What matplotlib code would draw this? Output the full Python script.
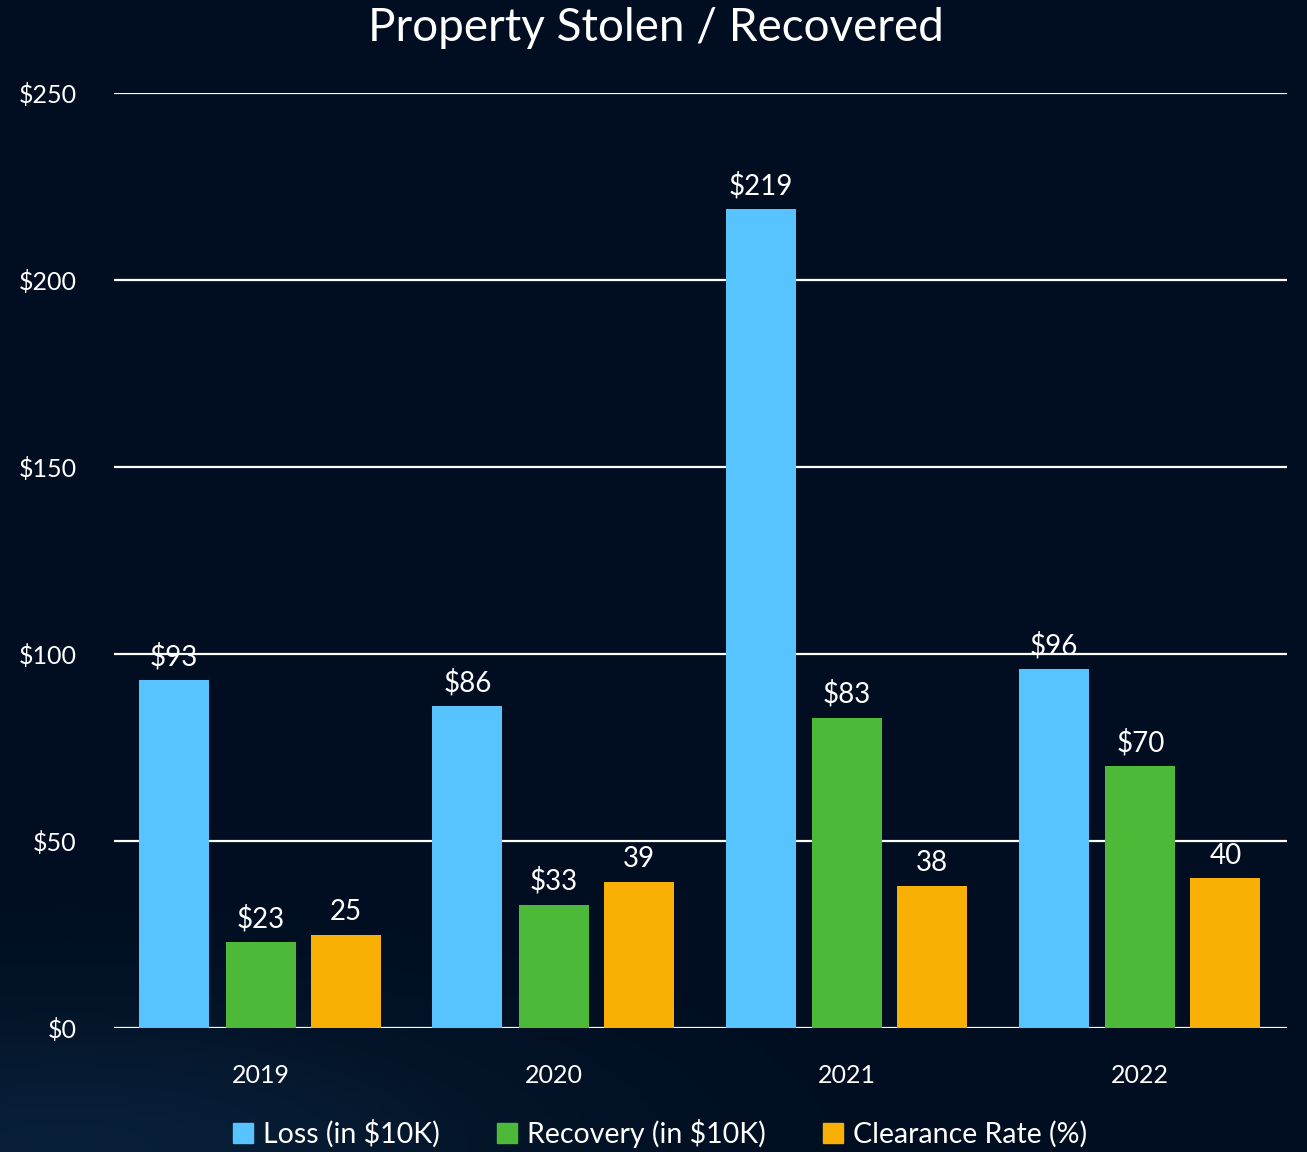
import numpy as np
import matplotlib.pyplot as plt
from matplotlib.patches import Patch

years = ['2019', '2020', '2021', '2022']
loss = [93, 86, 219, 96]
recovery = [23, 33, 83, 70]
clearance = [25, 39, 38, 40]
yticks = [0, 50, 100, 150, 200, 250]

bg = '#010e21'
c_loss = '#57c4ff'
c_rec = '#4cb938'
c_clr = '#f8b004'

plt.rcParams['font.family'] = ['Lato', 'DejaVu Sans']

fig = plt.figure(figsize=(13.07, 11.52), dpi=100, facecolor=bg)

# faint bluish glow along the lower left
bgax = fig.add_axes([0, 0, 1, 1], zorder=-10)
gx, gy = np.meshgrid(np.linspace(0, 1, 300), np.linspace(0, 1, 300))
glow = np.exp(-((gx - 0.05) ** 2 / 0.12 + (gy - 0.0) ** 2 / 0.015))
base = np.array([1, 14, 33]) / 255.0
tint = np.array([10, 36, 62]) / 255.0
img = base + 0.8 * glow[..., None] * (tint - base)
bgax.imshow(img, origin='lower', extent=[0, 1, 0, 1], aspect='auto')
bgax.axis('off')

ax = fig.add_axes([114 / 1307, 124 / 1152, 1173 / 1307, 935 / 1152])
ax.set_facecolor('none')

x = np.arange(len(years))
w = 0.239
series = [(loss, -0.295, c_loss, True), (recovery, 0.0, c_rec, True), (clearance, 0.29, c_clr, False)]
for vals, off, col, dollar in series:
    bars = ax.bar(x + off, vals, width=w, color=col, zorder=3)
    for b, v in zip(bars, vals):
        lab = '$%d' % v if dollar else '%d' % v
        ax.annotate(lab, (b.get_x() + b.get_width() / 2, v), xytext=(0, 7),
                    textcoords='offset points', ha='center', va='bottom',
                    color='white', fontsize=20)

ax.set_xlim(-0.5, 3.5)
ax.set_ylim(0, 250)
ax.set_yticks(yticks)
ax.set_yticklabels(['$%d' % t for t in yticks])
ax.set_xticks(x)
ax.set_xticklabels(years)
ax.yaxis.grid(True, color='white', linewidth=1.6, zorder=0)
ax.set_axisbelow(True)
for s in ax.spines.values():
    s.set_visible(False)
ax.tick_params(axis='both', length=0, colors='white', labelsize=18)
ax.tick_params(axis='y', pad=27)
ax.tick_params(axis='x', pad=26)

fig.text(0.502, 1 - 28 / 1152, 'Property Stolen / Recovered', ha='center', va='center',
         color='white', fontsize=33)

handles = [Patch(color=c_loss, label='Loss (in $10K)'),
           Patch(color=c_rec, label='Recovery (in $10K)'),
           Patch(color=c_clr, label='Clearance Rate (%)')]
leg = fig.legend(handles=handles, loc='center', bbox_to_anchor=(0.505, 1 - 1133 / 1152), ncol=3,
                 frameon=False, fontsize=20.5, handlelength=0.7, handleheight=0.7,
                 handletextpad=0.35, columnspacing=2.0, borderaxespad=0)
for t in leg.get_texts():
    t.set_color('white')

fig.savefig('out.png', dpi=100, facecolor=bg)
